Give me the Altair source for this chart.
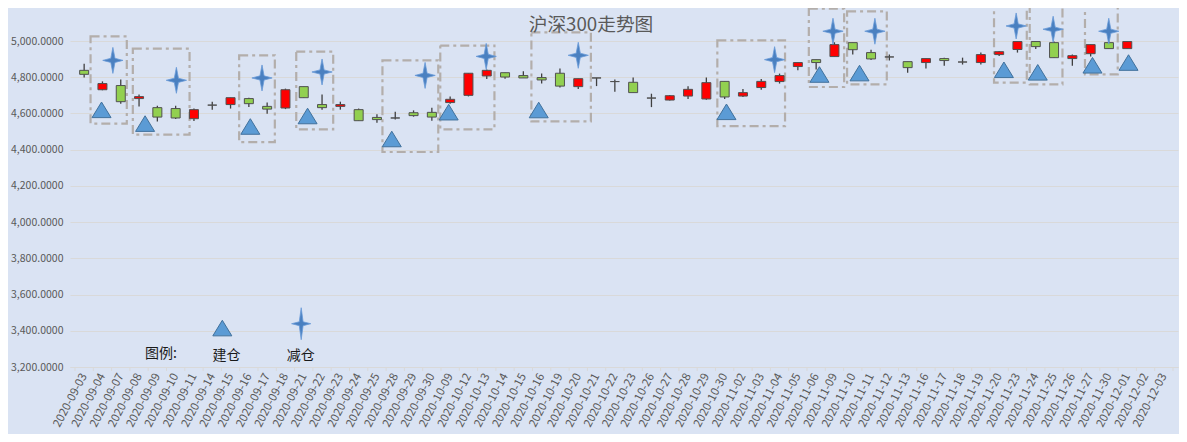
import altair as alt
import pandas as pd

# ---------------- data ----------------
dates = [
    "2020-09-03", "2020-09-04", "2020-09-07", "2020-09-08", "2020-09-09", "2020-09-10",
    "2020-09-11", "2020-09-14", "2020-09-15", "2020-09-16", "2020-09-17", "2020-09-18",
    "2020-09-21", "2020-09-22", "2020-09-23", "2020-09-24", "2020-09-25", "2020-09-28",
    "2020-09-29", "2020-09-30", "2020-10-09", "2020-10-12", "2020-10-13", "2020-10-14",
    "2020-10-15", "2020-10-16", "2020-10-19", "2020-10-20", "2020-10-21", "2020-10-22",
    "2020-10-23", "2020-10-26", "2020-10-27", "2020-10-28", "2020-10-29", "2020-10-30",
    "2020-11-02", "2020-11-03", "2020-11-04", "2020-11-05", "2020-11-06", "2020-11-09",
    "2020-11-10", "2020-11-11", "2020-11-12", "2020-11-13", "2020-11-16", "2020-11-17",
    "2020-11-18", "2020-11-19", "2020-11-20", "2020-11-23", "2020-11-24", "2020-11-25",
    "2020-11-26", "2020-11-27", "2020-11-30", "2020-12-01", "2020-12-02", "2020-12-03",
]

opens = [4838, 4731, 4754, 4682, 4632, 4627, 4571, 4646, 4649, 4682,
         4639, 4630, 4748, 4649, 4639, 4621, 4578, 4575, 4604, 4606,
         4660, 4700, 4807, 4825, 4809, 4798, 4822, 4748, 4796, 4776,
         4772, 4685, 4674, 4696, 4680, 4777, 4696, 4743, 4776, 4859,
         4897, 4914, 4991, 4936, 4912, 4886, 4881, 4903, 4884, 4881,
         4925, 4953, 4997, 4991, 4903, 4930, 4991, 4958]
closes = [4816, 4765, 4665, 4693, 4580, 4575, 4621, 4646, 4687, 4654,
          4624, 4731, 4687, 4632, 4649, 4560, 4566, 4575, 4588, 4580,
          4678, 4822, 4838, 4801, 4796, 4785, 4751, 4792, 4796, 4776,
          4715, 4685, 4698, 4733, 4770, 4691, 4715, 4777, 4809, 4881,
          4881, 4980, 4952, 4901, 4912, 4853, 4903, 4892, 4884, 4925,
          4941, 4997, 4969, 4908, 4919, 4980, 4958, 4997]
highs = [4875, 4777, 4787, 4704, 4643, 4643, 4627, 4665, 4687, 4687,
         4661, 4737, 4748, 4704, 4665, 4627, 4595, 4610, 4617, 4632,
         4694, 4822, 4842, 4825, 4833, 4820, 4848, 4792, 4796, 4787,
         4798, 4709, 4702, 4750, 4798, 4777, 4735, 4790, 4820, 4881,
         4897, 4993, 4991, 4952, 4925, 4886, 4903, 4908, 4908, 4936,
         4945, 4997, 4997, 4997, 4925, 4980, 4997, 4997]
lows = [4798, 4728, 4654, 4639, 4555, 4569, 4558, 4621, 4627, 4635,
        4599, 4624, 4687, 4621, 4621, 4560, 4549, 4566, 4582, 4560,
        4654, 4694, 4790, 4792, 4796, 4765, 4743, 4735, 4751, 4720,
        4715, 4635, 4671, 4680, 4676, 4680, 4691, 4731, 4765, 4838,
        4842, 4914, 4925, 4895, 4892, 4825, 4848, 4864, 4870, 4870,
        4917, 4936, 4956, 4908, 4864, 4914, 4958, 4958]

# annotation markers (x in trading-day index units, y in index points)
buy_x = [1.45, 3.83, 9.58, 12.71, 17.31, 20.42, 25.34, 35.60, 40.68, 42.87, 50.76, 52.61, 55.60, 57.57]
buy_y = [4620, 4544, 4528, 4586, 4459, 4607, 4619, 4609, 4815, 4823, 4841, 4827, 4866, 4881]
sell_x = [2.07, 5.54, 10.22, 13.50, 19.13, 22.47, 27.50, 38.23, 41.42, 43.71, 51.43, 53.45, 56.49]
sell_y = [4893, 4783, 4796, 4829, 4810, 4915, 4921, 4897, 5054, 5054, 5083, 5065, 5054]

box_x1 = [0.85, 3.16, 8.97, 12.09, 16.80, 19.96, 24.94, 35.10, 40.10, 42.19, 50.22, 52.17, 55.19]
box_x2 = [2.83, 6.26, 10.92, 14.11, 19.85, 22.92, 28.19, 38.80, 42.03, 44.36, 52.01, 53.96, 56.98]
box_top = [5026, 4958, 4921, 4941, 4893, 4975, 5048, 5004, 5179, 5164, 5207, 5220, 5192]
box_bottom = [4544, 4483, 4442, 4512, 4387, 4512, 4556, 4530, 4746, 4761, 4770, 4761, 4816]

legend_labels = ["图例:", "建仓", "减仓"]
legend_label_x = [4.70, 8.28, 12.34]
legend_label_y = [3273, 3263, 3263]
legend_buy_x = [8.05]
legend_buy_y = [3415]
legend_sell_x = [12.36]
legend_sell_y = [3439]

chart_title = "沪深300走势图"
y_ticks = [3200, 3400, 3600, 3800, 4000, 4200, 4400, 4600, 4800, 5000]

# ---------------- tables ----------------
n = len(opens)
candles = pd.DataFrame({
    "date": dates[:n], "open": opens, "close": closes, "high": highs, "low": lows,
})
candles["pos"] = [i + 0.5 for i in range(n)]
candles["dir"] = ["up" if c > o else ("down" if c < o else "flat") for o, c in zip(opens, closes)]

buys = pd.DataFrame({"x": buy_x, "y": buy_y})
sells = pd.DataFrame({"x": sell_x, "y": sell_y})
leg_buys = pd.DataFrame({"x": legend_buy_x, "y": legend_buy_y})
leg_sells = pd.DataFrame({"x": legend_sell_x, "y": legend_sell_y})
boxes = pd.DataFrame({"x1": box_x1, "x2": box_x2, "top": box_top, "bottom": box_bottom})
legend_txt = pd.DataFrame({"label": legend_labels, "x": legend_label_x, "y": legend_label_y})
ticks = pd.DataFrame({"t": list(range(len(dates) + 1))})
title_df = pd.DataFrame({"label": [chart_title]})

W, H = 1108, 326
FONT = "Noto Sans CJK SC"
GRID = "#d9d9d9"
TXT = "#595959"

xscale = alt.Scale(domain=[0, len(dates)], nice=False, zero=False)
yscale = alt.Scale(domain=[3200, 5000], nice=False, zero=False)

label_expr = "[" + ",".join("'%s'" % d for d in dates) + "][floor(datum.value)]"

x_axis = alt.Axis(
    values=[i + 0.5 for i in range(len(dates))], labelExpr=label_expr,
    labelAngle=-62, labelAlign="right", labelBaseline="middle",
    labelFont=FONT, labelFontSize=11.5, labelColor=TXT, labelPadding=7,
    ticks=False, grid=False, domain=True, domainColor=GRID, domainWidth=1,
    title=None, labelOverlap=False, labelFlush=False,
)
y_axis = alt.Axis(
    values=y_ticks, format=",.4f", labelFont=FONT, labelFontSize=10.5,
    labelColor=TXT, labelPadding=7, ticks=False, domain=False,
    grid=True, gridColor=GRID, gridWidth=1, title=None,
)


def X(field):
    return alt.X(field, scale=xscale, axis=x_axis)


def Y(field):
    return alt.Y(field, scale=yscale, axis=y_axis)


wicks = alt.Chart(candles).mark_rule(color="#404040", strokeWidth=1.3).encode(
    x=X("pos:Q"), y=Y("low:Q"), y2="high:Q",
)

bodies = alt.Chart(candles).mark_bar(size=9, stroke="#505050", strokeWidth=1).encode(
    x=X("pos:Q"), y=Y("open:Q"), y2="close:Q",
    color=alt.Color("dir:N", scale=alt.Scale(domain=["up", "down", "flat"],
                                             range=["#ff0000", "#92d050", "#505050"]),
                    legend=None),
)

tick_marks = alt.Chart(ticks).mark_rule(color=GRID, strokeWidth=1).encode(
    x=X("t:Q"), y=alt.value(H), y2=alt.value(H + 4),
)

box_layer = alt.Chart(boxes).mark_rect(
    fillOpacity=0, stroke="#b3aeab", strokeWidth=2.2, strokeDash=[9, 4, 3, 4]
).encode(
    x=X("x1:Q"), x2="x2:Q", y=Y("top:Q"), y2="bottom:Q",
)

TRI = "M0,-0.82L1,0.82L-1,0.82Z"
STAR = "M0,-1L0.16,-0.16L0.78,0L0.16,0.16L0,1L-0.16,0.16L-0.78,0L-0.16,-0.16Z"
STAR_LEG = "M0,-1L0.12,-0.12L0.6,0L0.12,0.12L0,1L-0.12,0.12L-0.6,0L-0.12,-0.12Z"


def buy_mark(df, size):
    return alt.Chart(df).mark_point(
        shape=TRI, filled=True, fill="#5b9bd5", stroke="#41719c", strokeWidth=1,
        opacity=1, size=size,
    ).encode(x=X("x:Q"), y=Y("y:Q"))


def sell_mark(df, shape, size):
    return alt.Chart(df).mark_point(
        shape=shape, filled=True, fill="#4a80c0", stroke="#6a9bd8", strokeWidth=0.8,
        opacity=1, size=size,
    ).encode(x=X("x:Q"), y=Y("y:Q"))


buy_layer = buy_mark(buys, 361)
sell_layer = sell_mark(sells, STAR, 676)
leg_buy_layer = buy_mark(leg_buys, 361)
leg_sell_layer = sell_mark(leg_sells, STAR_LEG, 1024)

legend_text = alt.Chart(legend_txt).mark_text(
    font=FONT, fontSize=14, color="#1a1a1a", align="center", baseline="middle"
).encode(x=X("x:Q"), y=Y("y:Q"), text="label:N")

title_text = alt.Chart(title_df).mark_text(
    font=FONT, fontSize=18.7, color=TXT, align="center", baseline="middle"
).encode(x=alt.value(521), y=alt.value(-16), text="label:N")

chart = alt.layer(
    wicks, tick_marks, box_layer, bodies, buy_layer, sell_layer,
    leg_buy_layer, leg_sell_layer, legend_text, title_text
).properties(
    width=W, height=H,
    autosize=alt.AutoSizeParams(type="none"),
    padding={"left": 62, "top": 33, "right": 1, "bottom": 67},
    background="#dae3f3",
).configure_view(stroke=None)

chart.save("out.html", embed_options={"renderer": "svg", "actions": False})
